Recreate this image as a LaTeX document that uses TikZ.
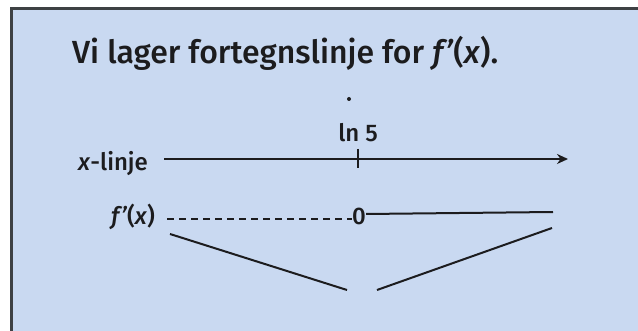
\documentclass[tikz,border=0pt]{standalone}
\usepackage{fontspec}
\setmainfont{Fira Sans Medium}[ItalicFont=Fira Sans Medium Italic]
\usetikzlibrary{arrows.meta}
\definecolor{bgblue}{HTML}{C9D9F1}
\definecolor{framegray}{HTML}{3E4144}
\definecolor{ink}{HTML}{1C1C1E}
\begin{document}
\begin{tikzpicture}[x=1pt,y=-1pt,
  every node/.style={text=ink, inner sep=0pt},
  titlefont/.style={font=\fontsize{32}{38}\selectfont},
  labelfont/.style={font=\fontsize{24}{29}\selectfont},
  ln/.style={draw=ink, line width=2pt},
  dashln/.style={draw=ink, line width=2pt, dash pattern=on 7pt off 5pt}]
\useasboundingbox (0,0) rectangle (638,331);
\fill[white] (-5,-5) rectangle (645,340);
\fill[bgblue] (11,8.5) rectangle (645,340);
\draw[framegray, line width=2.5pt] (11.25,340) -- (11.25,8.75) -- (645,8.75);

\node[titlefont, anchor=base west] (title) at (72,64) {Vi lager fortegnslinje for \textit{f’}(\textit{x}).};

\node[circle, fill=ink, minimum size=4pt] (dot) at (349,99) {};
\node[labelfont, anchor=base] (ln5) at (358,142) {ln 5};

\node[labelfont, anchor=base west] (xl) at (78,171) {\textit{x}-linje};
\coordinate (axs) at (164,159);
\coordinate (axe) at (568,159);
\draw[ln, -{Stealth[length=11pt,width=10pt]}] (axs) -- (axe);
\coordinate (tkt) at (358,149);
\coordinate (tkb) at (358,168);
\draw[ln] (tkt) -- (tkb);

\node[labelfont, anchor=base west] (fl) at (111,225) {\textit{f’}(\textit{x})};
\node[labelfont, anchor=center] (zero) at (359,216) {0};
\coordinate (ds) at (167,219);
\coordinate (se) at (553,212);
\draw[dashln] (ds) -- (zero.west |- ds);
\draw[ln] (zero.east |- 0,214) -- (se);

\coordinate (v1a) at (170,234);
\coordinate (v1b) at (347,290);
\coordinate (v2a) at (377,290);
\coordinate (v2b) at (552,228);
\draw[ln] (v1a) -- (v1b);
\draw[ln] (v2a) -- (v2b);
\end{tikzpicture}
\end{document}
